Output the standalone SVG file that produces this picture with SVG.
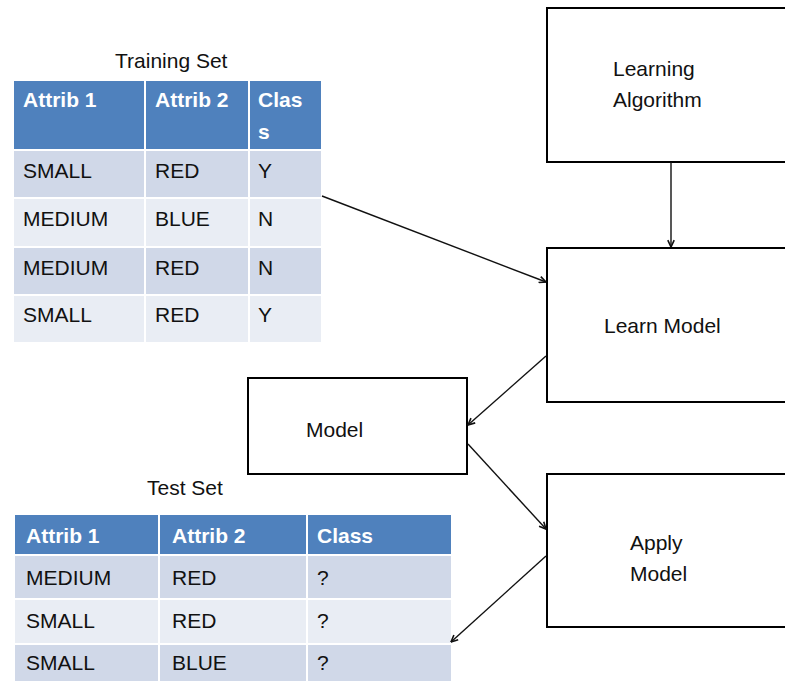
<svg xmlns="http://www.w3.org/2000/svg" width="785" height="681" viewBox="0 0 785 681">
  <style>
    text { font-family: "Liberation Sans", Arial, sans-serif; font-size: 21px; fill: #111; }
    .hd { font-weight: bold; fill: #ffffff; }
    .title { font-size: 21px; }
    .hcell { fill: #4F81BD; }
    .dark { fill: #D0D8E8; }
    .light { fill: #E9EDF4; }
    .grid { stroke: #ffffff; stroke-width: 2; fill: none; }
    .box { fill: #ffffff; stroke: #000000; stroke-width: 2; }
    .conn { stroke: #111; stroke-width: 1.4; fill: none; marker-end: url(#arrow); }
  </style>
  <defs>
    <marker id="arrow" viewBox="0 0 10 10" refX="9.5" refY="5" markerWidth="8" markerHeight="8" markerUnits="userSpaceOnUse" orient="auto">
      <path d="M1,1 L9.5,5 L1,9" fill="none" stroke="#111" stroke-width="2"/>
    </marker>
  </defs>
  <rect width="785" height="681" fill="#ffffff"/>

  <!-- Training set table -->
  <g id="training-set">
    <text class="title" x="115" y="68">Training Set</text>
    <rect class="hcell" x="14" y="81" width="307" height="69"/>
    <rect class="dark" x="14" y="150" width="307" height="48"/>
    <rect class="light" x="14" y="198" width="307" height="49"/>
    <rect class="dark" x="14" y="247" width="307" height="48"/>
    <rect class="light" x="14" y="295" width="307" height="47"/>
    <path class="grid" d="M145,81 V342 M249,81 V342 M14,150 H321 M14,198 H321 M14,247 H321 M14,295 H321"/>
    <text class="hd" x="23" y="107">Attrib 1</text>
    <text class="hd" x="155" y="107">Attrib 2</text>
    <text class="hd" x="258" y="107">Clas</text>
    <text class="hd" x="258" y="139">s</text>
    <text x="23" y="178">SMALL</text><text x="155" y="178">RED</text><text x="258" y="178">Y</text>
    <text x="23" y="226">MEDIUM</text><text x="155" y="226">BLUE</text><text x="258" y="226">N</text>
    <text x="23" y="275">MEDIUM</text><text x="155" y="275">RED</text><text x="258" y="275">N</text>
    <text x="23" y="322">SMALL</text><text x="155" y="322">RED</text><text x="258" y="322">Y</text>
  </g>

  <!-- Test set table -->
  <g id="test-set">
    <text class="title" x="147" y="495">Test Set</text>
    <rect class="hcell" x="15" y="515" width="436" height="40"/>
    <rect class="dark" x="15" y="555" width="436" height="44"/>
    <rect class="light" x="15" y="599" width="436" height="45"/>
    <rect class="dark" x="15" y="644" width="436" height="40"/>
    <path class="grid" d="M159,515 V684 M307,515 V684 M15,555 H451 M15,599 H451 M15,644 H451"/>
    <text class="hd" x="26" y="543">Attrib 1</text>
    <text class="hd" x="172" y="543">Attrib 2</text>
    <text class="hd" x="317" y="543">Class</text>
    <text x="26" y="585">MEDIUM</text><text x="172" y="585">RED</text><text x="317" y="585">?</text>
    <text x="26" y="628">SMALL</text><text x="172" y="628">RED</text><text x="317" y="628">?</text>
    <text x="26" y="670">SMALL</text><text x="172" y="670">BLUE</text><text x="317" y="670">?</text>
  </g>

  <!-- Process boxes (run off the right edge) -->
  <g id="learning-algorithm">
    <rect class="box" x="547" y="8" width="260" height="154"/>
    <text x="613" y="76">Learning</text>
    <text x="613" y="107">Algorithm</text>
  </g>
  <g id="learn-model">
    <rect class="box" x="547" y="248" width="260" height="154"/>
    <text x="604" y="333">Learn Model</text>
  </g>
  <g id="model">
    <rect class="box" x="248" y="378" width="219" height="96"/>
    <text x="306" y="437">Model</text>
  </g>
  <g id="apply-model">
    <rect class="box" x="547" y="474" width="260" height="153"/>
    <text x="630" y="550">Apply</text>
    <text x="630" y="581">Model</text>
  </g>

  <!-- Connectors -->
  <g id="connectors">
    <path class="conn" d="M322,196 L546,282"/>
    <path class="conn" d="M671,162 L671,247"/>
    <path class="conn" d="M546,356 L468,425"/>
    <path class="conn" d="M468,444 L546,529"/>
    <path class="conn" d="M546,556 L451,642"/>
  </g>
</svg>
